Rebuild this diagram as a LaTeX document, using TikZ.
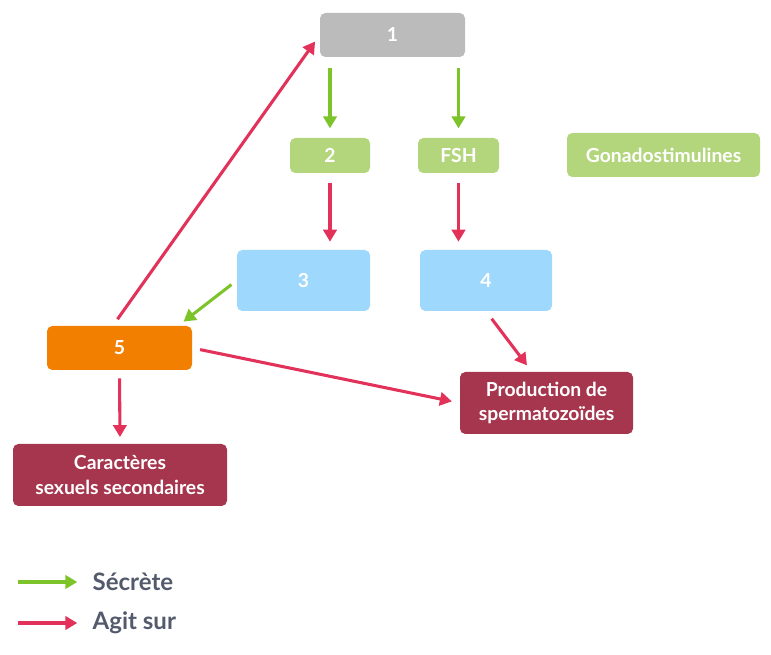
\documentclass[tikz,border=0pt]{standalone}
\usepackage{fontspec}
\setmainfont{Lato}
\usepackage{tikz}
\usetikzlibrary{positioning}
\usetikzlibrary{arrows.meta}

\definecolor{boxgray}{HTML}{BBBBBB}
\definecolor{boxgreen}{HTML}{B3D67D}
\definecolor{boxblue}{HTML}{9ED8FD}
\definecolor{boxorange}{HTML}{F27F00}
\definecolor{boxred}{HTML}{A6364D}
\definecolor{arrgreen}{HTML}{7DC42A}
\definecolor{arrred}{HTML}{E2325A}
\definecolor{legtext}{HTML}{535A6C}

\begin{document}
\begin{tikzpicture}
  [ x=0.75pt, y=-0.75pt
  , box/.style={ rectangle, rounded corners=4pt
               , text=white, font=\fontsize{14.5}{18.5}\selectfont\bfseries
               , align=center, inner sep=0pt
               }
  , secrete/.style={ -{Triangle[length=9pt,width=10pt]}, arrgreen, line width=2.3pt }
  , agit/.style={ -{Triangle[length=9pt,width=10pt]}, arrred, line width=2.3pt }
  ]

  \useasboundingbox (0,0) rectangle (771,655);

  % hormone boxes
  \node (one) [box, fill=boxgray, minimum width=108.75pt, minimum height=33pt]
    at (392.5,35) {1};
  \node (two) [box, fill=boxgreen, minimum width=60pt, minimum height=26.25pt]
    at (330,155.5) {2};
  \node (fsh) [box, fill=boxgreen, minimum width=60.75pt, minimum height=26.25pt]
    at (458.5,155.5) {FSH};
  \node (gonado) [box, fill=boxgreen, minimum width=144.75pt, minimum height=33pt]
    at (663.5,155) {Gonadostimulines};

  % target cells
  \node (three) [box, fill=boxblue, minimum width=99.75pt, minimum height=45.75pt]
    at (303.5,280.5) {3};
  \node (four) [box, fill=boxblue, minimum width=99pt, minimum height=45.75pt]
    at (486,280.5) {4};
  \node (five) [box, fill=boxorange, minimum width=108.75pt, minimum height=33pt]
    at (119.5,348) {5};

  % effects
  \node (prod) [box, fill=boxred, minimum width=129.75pt, minimum height=46.5pt]
    at (546.5,403) {Production de\\spermatozoïdes};
  \node (carac) [box, fill=boxred, minimum width=160.5pt, minimum height=46.5pt]
    at (120,475) {Caractères\\sexuels secondaires};

  \draw [secrete, shorten <=8pt, shorten >=7pt] (one.south -| two) to (two.north);
  \draw [secrete, shorten <=8pt, shorten >=7pt] (one.south -| fsh) to (fsh.north);
  \draw [agit, shorten <=7pt, shorten >=6pt] (two.south) to (two.south |- three.north);
  \draw [agit, shorten <=7pt, shorten >=6pt] (fsh.south) to (fsh.south |- three.north);
  \draw [secrete, shorten <=5pt, shorten >=5pt] (three.west) to ([xshift=-10.5pt]five.north east);
  \draw [agit, shorten <=6pt, shorten >=6pt] ([xshift=-5pt]five.north) to (one.west);
  \draw [agit, shorten <=6pt, shorten >=6pt] (five.east) to (prod.west);
  \draw [agit, shorten <=7pt, shorten >=6pt] (four.south) to ([xshift=-11pt]prod.north);
  \draw [agit, shorten <=6pt, shorten >=5pt] (five.south) to (carac.north);

  % legend
  \coordinate (secstart) at (18,582);
  \coordinate (agitstart) at (18,623);
  \node (sectext) [anchor=west, text=legtext, font=\fontsize{18}{21}\selectfont\bfseries]
    at (88,582) {Sécrète};
  \node (agittext) [anchor=west, text=legtext, font=\fontsize{18}{21}\selectfont\bfseries]
    at (88,623) {Agit sur};
  \draw [secrete, shorten >=8pt] (secstart) to (sectext.west);
  \draw [agit, shorten >=8pt] (agitstart) to (agittext.west);

\end{tikzpicture}
\end{document}
